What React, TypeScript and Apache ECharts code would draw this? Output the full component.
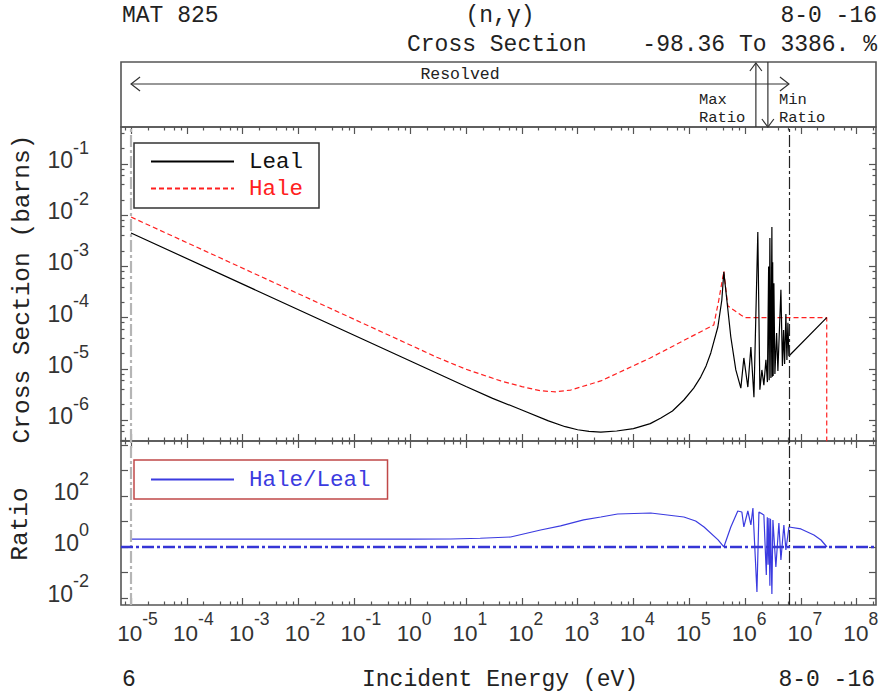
import React, { useEffect, useRef } from "react";
import * as echarts from "echarts";

// ---------------- data (energies in eV, cross sections in barns) ----------------
const LEAL_E = [
  1e-5, 10, 30, 100, 300, 600, 1e3, 1.6e3, 2.6e3, 5e3, 1e4, 2e4, 3.1e4, 5e4, 8.0e4,
  1.2e5, 1.6e5, 2.0e5, 2.43e5, 3.25e5, 3.83e5, 4.16e5, 4.71e5, 5.55e5, 6.82e5, 8.39e5,
  9.5e5, 1.12e6, 1.27e6, 1.44e6, 1.69e6, 1.84e6, 2.0e6, 2.17e6, 2.36e6, 2.51e6, 2.64e6,
  2.7e6, 2.78e6, 2.9e6, 3.02e6, 3.08e6, 3.12e6, 3.18e6, 3.28e6, 3.42e6, 3.67e6,
  3.87e6, 4.38e6, 4.66e6, 4.89e6, 5.1e6, 5.38e6, 5.61e6, 5.85e6, 6.1e6, 2.9e7,
];
const LEAL_XS = [
  4.5e-3, 4.5e-6, 2.65e-6, 1.57e-6, 9.6e-7, 7.4e-7, 6.45e-7, 6.0e-7, 5.8e-7, 6.1e-7,
  6.8e-7, 8.5e-7, 1.09e-6, 1.5e-6, 2.46e-6, 4.2e-6, 6.9e-6, 1.14e-5, 2.04e-5, 6.55e-5,
  2.21e-4, 7.8e-4, 2.21e-4, 4.18e-5, 9.5e-6, 4.2e-6, 1.63e-5, 4.4e-6, 2.67e-5, 2.8e-6,
  4.7e-3, 3.9e-6, 9.5e-6, 4.8e-6, 1.5e-5, 5.5e-6, 1.0e-3, 6.0e-6, 3.6e-3, 6.6e-6,
  5.9e-3, 7.0e-6, 1.2e-3, 7.2e-6, 4.7e-4, 7.9e-6, 5.0e-5, 9.1e-6, 3.5e-4, 1.13e-5,
  5.7e-5, 1.24e-5, 1.17e-4, 1.49e-5, 7.9e-5, 1.78e-5, 1.0e-4,
];
const HALE_E = [
  1e-5, 1, 3, 10, 42, 100, 217, 400, 750, 2.6e3, 2.0e4, 1.06e5, 2.75e5, 3.38e5, 4.16e5,
  4.9e5, 8.4e5, 1.0e6, 2.9e7, 2.9e7,
];
const HALE_XS = [
  9.2e-3, 2.92e-5, 1.68e-5, 9.8e-6, 5.8e-6, 4.5e-6, 3.72e-6, 3.55e-6, 3.85e-6, 5.8e-6,
  1.63e-5, 4.2e-5, 7.2e-5, 2.2e-4, 8.0e-4, 1.7e-4, 1.12e-4, 1.0e-4, 1.0e-4, 1e-9,
];
const RATIO_E = [
  1e-5, 1, 5.3, 18, 63, 217, 495, 1.28e3, 2.6e3, 5.2e3, 2.04e4, 8.0e4, 1.3e5, 1.84e5,
  3.28e5, 4.16e5, 5.55e5, 7.4e5, 8.75e5, 9.5e5, 1.12e6, 1.27e6, 1.38e6, 1.63e6, 1.77e6,
  2.17e6, 2.4e6, 2.5e6, 2.58e6, 2.67e6, 2.78e6, 2.85e6, 3.02e6, 3.15e6, 3.56e6, 4.03e6,
  4.38e6, 4.95e6, 5.38e6, 6.1e6, 1e7, 1.71e7, 2.29e7, 2.93e7,
];
const RATIO_VALS = [
  2.04, 2.04, 2.06, 2.2, 2.47, 4.64, 6.7, 11.5, 15, 19.7, 21.5, 15.0, 10.5, 6.1, 1.9,
  1.0, 6.1, 25.8, 23.6, 6.1, 25.8, 7.3, 33.8, 0.0172, 23.6, 18, 0.08, 14.5, 0.2, 13.7,
  0.03, 12.8, 0.0143, 11.5, 0.164, 8.7, 0.31, 7.3, 0.76, 6.1, 5.1, 2.96, 1.88, 1.0,
];

// tick exponents (powers of ten)
const X_EXPONENTS = [-5, -4, -3, -2, -1, 0, 1, 2, 3, 4, 5, 6, 7, 8];
const XS_EXPONENTS = [-6, -5, -4, -3, -2, -1];
const RATIO_LABEL_EXPONENTS = [-2, 0, 2];
const RATIO_TICK_EXPONENTS = [-2, -1, 0, 1, 2, 3, 4];
const MINOR_MULTS = [2, 4, 6, 8];

// annotations
const RESOLVED_RANGE = [1e-5, 6.1e6];
const MAX_RATIO_E = 1.56e6;
const MIN_RATIO_E = 2.56e6;
const LOWEST_E = 1e-5;
const BOUNDARY_E = 6.1e6;

// axis extents (log10 units)
const X_MIN = -5.18;
const X_MAX = 8.345;
const XS_MIN = -6.41;
const XS_MAX = -0.277;
const R_MIN = -2.275;
const R_MAX = 4.157;

const FRAME = "#555";
const MONO = '"Liberation Mono", "DejaVu Sans Mono", monospace';
const SANS = '"Liberation Sans", Arial, sans-serif';
const DASHDOT = [12, 3, 3, 3];

const lg = (v: number) => Math.log10(v);

function minorTicks(lo: number, hi: number): number[] {
  const out: number[] = [];
  for (let k = Math.floor(lo) - 1; k <= Math.ceil(hi); k++) {
    for (const m of MINOR_MULTS) {
      const v = k + Math.log10(m);
      if (v > lo && v < hi) out.push(v);
    }
  }
  return out;
}

const tickLine = { color: FRAME, width: 1.2 };
const noLine = { show: false, onZero: false };

function xAxesFor(grid: number, labels: boolean): any[] {
  const base = {
    type: "value",
    gridIndex: grid,
    min: X_MIN,
    max: X_MAX,
    axisLine: noLine,
    splitLine: { show: false },
    axisLabel: { show: false },
  };
  const major = { show: true, inside: true, length: 7, customValues: X_EXPONENTS, lineStyle: tickLine };
  const minor = { show: true, inside: true, length: 3.5, customValues: minorTicks(X_MIN, X_MAX), lineStyle: tickLine };
  const lab = labels
    ? {
        show: true,
        customValues: X_EXPONENTS,
        hideOverlap: false,
        margin: 5,
        formatter: (v: number) => {
          const e = Math.round(v);
          return `{${e < 0 ? "pn" : "pp"}| }{b|10}{s|${e}}`;
        },
        rich: {
          b: { fontFamily: SANS, fontSize: 22.5, lineHeight: 35, verticalAlign: "bottom", color: "#333" },
          s: { fontFamily: SANS, fontSize: 17.5, lineHeight: 35, verticalAlign: "top", color: "#333" },
          pn: { width: 13, lineHeight: 35 },
          pp: { width: 8, lineHeight: 35 },
        },
      }
    : { show: false };
  return [
    { ...base, position: "bottom", axisTick: major, axisLabel: lab },
    { ...base, position: "bottom", axisTick: minor },
    { ...base, position: "top", axisTick: major },
    { ...base, position: "top", axisTick: minor },
  ];
}

function yAxesFor(
  grid: number,
  min: number,
  max: number,
  majors: number[],
  minors: number[],
  labelVals: number[]
): any[] {
  const base = {
    type: "value",
    gridIndex: grid,
    min,
    max,
    axisLine: noLine,
    splitLine: { show: false },
    axisLabel: { show: false },
  };
  const major = { show: true, inside: true, length: 7, customValues: majors, lineStyle: tickLine };
  const minor = { show: true, inside: true, length: 3.5, customValues: minors, lineStyle: tickLine };
  const lab = {
    show: true,
    customValues: labelVals,
    showMinLabel: true,
    showMaxLabel: true,
    hideOverlap: false,
    margin: 32,
    padding: [0, 0, 18, 0],
    formatter: (v: number) => `{b|10}{s|${Math.round(v)}}`,
    rich: {
      b: { fontFamily: SANS, fontSize: 23, lineHeight: 33, verticalAlign: "bottom", color: "#333" },
      s: { fontFamily: SANS, fontSize: 18, lineHeight: 33, verticalAlign: "top", color: "#333" },
    },
  };
  const arr: any[] = [
    { ...base, position: "left", axisTick: major, axisLabel: lab },
    { ...base, position: "right", axisTick: major },
  ];
  if (minors.length) {
    arr.push({ ...base, position: "left", axisTick: minor });
    arr.push({ ...base, position: "right", axisTick: minor });
  }
  return arr;
}

function buildOption(): any {
  const leal = LEAL_E.map((e, i) => [lg(e), lg(LEAL_XS[i])]);
  const hale = HALE_E.map((e, i) => [lg(e), lg(HALE_XS[i])]);
  const ratio = RATIO_E.map((e, i) => [lg(e), lg(RATIO_VALS[i])]);

  const xAxis = [
    { type: "value", gridIndex: 0, min: X_MIN, max: X_MAX, show: false },
    ...xAxesFor(1, false), // indices 1..4
    ...xAxesFor(2, true), // indices 5..8
  ];
  const yMain = yAxesFor(1, XS_MIN, XS_MAX, XS_EXPONENTS, minorTicks(XS_MIN, XS_MAX), XS_EXPONENTS);
  const yRatio = yAxesFor(2, R_MIN, R_MAX, RATIO_TICK_EXPONENTS, [], RATIO_LABEL_EXPONENTS);
  const yAxis = [{ type: "value", gridIndex: 0, min: 0, max: 1, show: false }, ...yMain, ...yRatio];
  const ratioYIndex = 1 + yMain.length;

  const gridBox = { show: true, borderColor: FRAME, borderWidth: 1.6, backgroundColor: "transparent" };

  const vLines = [
    { xAxis: lg(LOWEST_E), lineStyle: { color: "#b5b5b5", width: 2.2, type: DASHDOT } },
    { xAxis: lg(BOUNDARY_E), lineStyle: { color: "#222", width: 1.2, type: DASHDOT } },
  ];

  const txt = (text: string, x: number, y: number, align: string, extra: any = {}) => ({
    type: "text",
    x,
    y,
    silent: true,
    style: {
      text,
      font: `${extra.size || 23}px ${MONO}`,
      fill: extra.color || "#222",
      align,
      verticalAlign: "middle",
    },
    rotation: extra.rotation || 0,
  });

  const legendCommon = {
    orient: "vertical",
    left: 134,
    itemWidth: 83,
    itemHeight: 14,
    selectedMode: false,
    borderWidth: 1.5,
    itemStyle: { opacity: 0 },
    textStyle: { fontFamily: MONO, fontSize: 22.5, lineHeight: 22, padding: [0, 0, 0, 10] },
  };

  return {
    animation: false,
    backgroundColor: "#fff",
    grid: [
      { left: 121, top: 62, width: 755, height: 65, ...gridBox },
      { left: 121, top: 127, width: 755, height: 314, ...gridBox },
      { left: 121, top: 441, width: 755, height: 164, ...gridBox },
    ],
    xAxis,
    yAxis,
    legend: [
      {
        ...legendCommon,
        data: [
          { name: "Leal", textStyle: { color: "#111" } },
          { name: "Hale", textStyle: { color: "#ff2020" } },
        ],
        top: 143,
        itemGap: 4,
        padding: [7, 16, 8, 16],
        borderColor: "#333",
      },
      {
        ...legendCommon,
        data: [{ name: "Hale/Leal", textStyle: { color: "#3b3be0" } }],
        top: 460,
        padding: [8, 17, 8, 16],
        borderColor: "#c04848",
      },
    ],
    series: [
      {
        name: "Leal",
        type: "line",
        xAxisIndex: 1,
        yAxisIndex: 1,
        data: leal,
        symbol: "none",
        color: "#000",
        lineStyle: { color: "#000", width: 1.2 },
        z: 3,
        markLine: { silent: true, symbol: ["none", "none"], label: { show: false }, data: vLines },
      },
      {
        name: "Hale",
        type: "line",
        xAxisIndex: 1,
        yAxisIndex: 1,
        data: hale,
        symbol: "none",
        color: "#ff2020",
        lineStyle: { color: "#ff2020", width: 1.2, type: [5, 3] },
        z: 2,
      },
      {
        name: "Hale/Leal",
        type: "line",
        xAxisIndex: 5,
        yAxisIndex: ratioYIndex,
        data: ratio,
        symbol: "none",
        color: "#3b3be0",
        lineStyle: { color: "#3b3be0", width: 1.2 },
        markLine: {
          silent: true,
          symbol: ["none", "none"],
          label: { show: false },
          data: [
            ...vLines,
            { yAxis: 0, lineStyle: { color: "#3535d5", width: 2.4, type: DASHDOT } },
          ],
        },
      },
      {
        type: "custom",
        xAxisIndex: 0,
        yAxisIndex: 0,
        silent: true,
        clip: false,
        data: [[0, 0]],
        renderItem: (params: any, api: any) => {
          const cs = params.coordSys;
          const top = cs.y;
          const bot = cs.y + cs.height;
          const cx = (e: number) => api.coord([lg(e), 0])[0];
          const x0 = cx(RESOLVED_RANGE[0]);
          const x1 = cx(RESOLVED_RANGE[1]);
          const xMax = cx(MAX_RATIO_E);
          const xMin = cx(MIN_RATIO_E);
          const ya = top + 22;
          const st = { stroke: "#333", lineWidth: 1.2, fill: "none" };
          const t = (text: string, x: number, y: number, align: string, size = 15.5) => ({
            type: "text",
            style: { text, x, y, align, verticalAlign: "middle", font: `${size}px ${MONO}`, fill: "#222" },
          });
          return {
            type: "group",
            children: [
              { type: "line", shape: { x1: x0, y1: ya, x2: x1, y2: ya }, style: st },
              { type: "polyline", shape: { points: [[x0 + 9, ya - 7], [x0, ya], [x0 + 9, ya + 7]] }, style: st },
              { type: "polyline", shape: { points: [[x1 - 9, ya - 7], [x1, ya], [x1 - 9, ya + 7]] }, style: st },
              t("Resolved", (x0 + x1) / 2, top + 12, "center", 16.5),
              { type: "line", shape: { x1: xMax, y1: bot, x2: xMax, y2: top + 1 }, style: st },
              { type: "polyline", shape: { points: [[xMax - 6, top + 9], [xMax, top + 1], [xMax + 6, top + 9]] }, style: st },
              { type: "line", shape: { x1: xMin, y1: top, x2: xMin, y2: bot }, style: st },
              { type: "polyline", shape: { points: [[xMin - 6, bot - 8], [xMin, bot], [xMin + 6, bot - 8]] }, style: st },
              t("Max", xMax - 57, top + 38, "left"),
              t("Ratio", xMax - 57, top + 56, "left"),
              t("Min", xMin + 11, top + 38, "left"),
              t("Ratio", xMin + 11, top + 56, "left"),
            ],
          };
        },
      },
    ],
    graphic: [
      txt("MAT 825", 122, 16, "left"),
      txt("(n,\u03b3)", 500, 16, "center"),
      txt("8-0 -16", 877, 16, "right"),
      txt("Cross Section", 407, 45, "left"),
      txt("-98.36 To 3386. %", 877, 45, "right"),
      txt("6", 122, 680, "left"),
      txt("Incident Energy (eV)", 362, 680, "left"),
      txt("8-0 -16", 875, 680, "right"),
      txt("Cross Section (barns)", 22, 289, "center", { rotation: Math.PI / 2, size: 24.5 }),
      txt("Ratio", 20, 524, "center", { rotation: Math.PI / 2, size: 24.5 }),
    ],
  };
}

export default function App() {
  const ref = useRef<HTMLDivElement>(null);
  useEffect(() => {
    if (!ref.current) return;
    const chart = echarts.init(ref.current, undefined, { renderer: "svg" });
    chart.setOption(buildOption());
    return () => chart.dispose();
  }, []);
  return (
    <div
      ref={ref}
      style={{ position: "fixed", left: 0, top: 0, width: 886, height: 695, background: "#fff" }}
    />
  );
}
